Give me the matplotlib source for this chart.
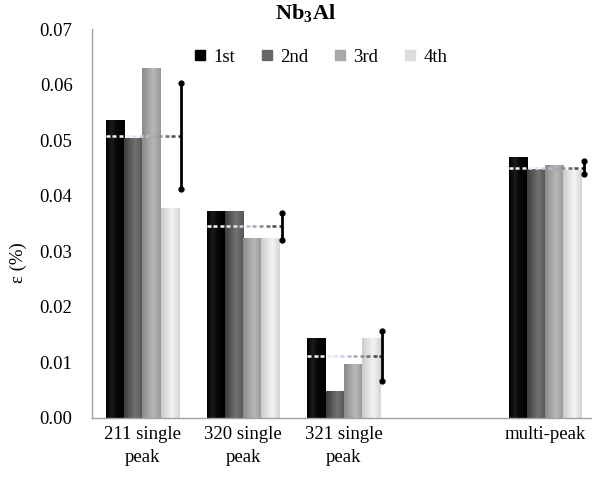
import numpy as np
import matplotlib
matplotlib.use("Agg")
import matplotlib.pyplot as plt
from matplotlib.colors import LinearSegmentedColormap
from matplotlib.collections import LineCollection
from matplotlib.lines import Line2D

plt.rcParams['font.family'] = ['Liberation Serif', 'DejaVu Serif']

categories = ["211 single\npeak", "320 single\npeak", "321 single\npeak", "multi-peak"]
cat_pos = [0, 1, 2, 4]
series_names = ["1st", "2nd", "3rd", "4th"]
v_1st = [0.0536, 0.0371, 0.0143, 0.0469]
v_2nd = [0.0504, 0.0371, 0.0048, 0.0448]
v_3rd = [0.0629, 0.0324, 0.0096, 0.0454]
v_4th = [0.0377, 0.0324, 0.0143, 0.0445]
means = [0.0508, 0.0345, 0.0112, 0.0451]
errs = [0.0096, 0.0024, 0.0045, 0.0012]
yticks = [0.00, 0.01, 0.02, 0.03, 0.04, 0.05, 0.06, 0.07]

series = [v_1st, v_2nd, v_3rd, v_4th]
legend_colors = ["#000000", "#666666", "#a8a8a8", "#dcdcdc"]
grad_stops = [
    [(0, "#000000"), (0.3, "#1c1c1c"), (0.55, "#080808"), (1, "#000000")],
    [(0, "#3e3e3e"), (0.6, "#727272"), (1, "#555555")],
    [(0, "#8a8a8a"), (0.6, "#b8b8b8"), (1, "#969696")],
    [(0, "#cccccc"), (0.6, "#f4f4f4"), (1, "#d4d4d4")],
]
cmaps = [LinearSegmentedColormap.from_list("g%d" % i, s) for i, s in enumerate(grad_stops)]

W, H = 592, 480
fig = plt.figure(figsize=(W / 100, H / 100), dpi=100)
ax = fig.add_axes([92 / W, 62 / H, 503.5 / W, 388.7 / H])
ax.set_xlim(-0.5, 4.5)
ax.set_ylim(0, 0.07)

bw = 0.181
grad = np.linspace(0, 1, 64).reshape(1, -1)
for si, vals in enumerate(series):
    for ci, v in zip(cat_pos, vals):
        x0 = ci - 2 * bw + si * bw
        ax.imshow(grad, cmap=cmaps[si], extent=[x0, x0 + bw, 0, v],
                  aspect='auto', origin='lower', zorder=2, interpolation='bilinear')

line_cmap = LinearSegmentedColormap.from_list("ln", ["#ffffff", "#e4e8f8", "#9a9aa8", "#1a1a1a"])
for ci, m, e in zip(cat_pos, means, errs):
    xl = ci - 2 * bw
    xr = ci + 2 * bw + 0.02
    starts = np.arange(xl, xr, 0.065)
    segs = [[(s, m), (min(s + 0.04, xr), m)] for s in starts]
    cols = [line_cmap((s - xl) / (xr - xl)) for s in starts]
    ax.add_collection(LineCollection(segs, colors=cols, linewidths=1.8, zorder=3))
    ax.errorbar([xr], [m], yerr=[e], fmt='none', ecolor='black', elinewidth=2,
                capsize=0, zorder=4)
    ax.plot([xr, xr], [m - e, m + e], 'o', color='black', markersize=3.5, zorder=5)

ax.set_xticks(cat_pos)
ax.set_xticklabels(categories, fontsize=13.5, linespacing=1.45)
ax.set_yticks(yticks)
ax.set_yticklabels(["%.2f" % t for t in yticks], fontsize=13.5)
ax.tick_params(axis='both', length=0)
ax.tick_params(axis='x', pad=6)
ax.tick_params(axis='y', pad=14)
for side in ['top', 'right']:
    ax.spines[side].set_visible(False)
for side in ['left', 'bottom']:
    ax.spines[side].set_color('#a0a0a0')
    ax.spines[side].set_linewidth(1.0)

ax.set_ylabel("ε (%)", fontsize=13.5)
ax.yaxis.set_label_coords(-0.13, 0.40)

fig.text(305 / W, 1 - 14 / H, "Nb$_\\mathregular{3}$Al", ha='center', va='center',
         fontsize=16, fontweight='bold')

handles = [Line2D([], [], marker='s', linestyle='none', color=c, markersize=7)
           for c in legend_colors]
fig.legend(handles, series_names, loc='center', bbox_to_anchor=(320 / W, 1 - 57 / H),
           ncol=4, frameon=False, fontsize=13.5, handlelength=0.8, handletextpad=0.3,
           columnspacing=1.3)

fig.savefig("out.png", dpi=100)
